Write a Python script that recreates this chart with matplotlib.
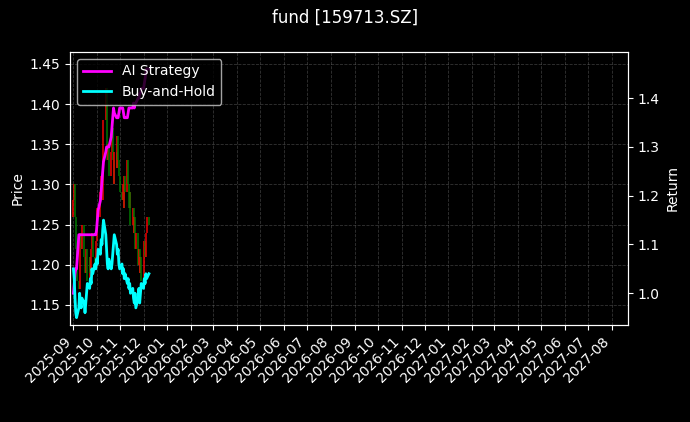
import matplotlib
matplotlib.use("Agg")
import matplotlib.pyplot as plt
import matplotlib.dates as mdates
import pandas as pd
import numpy as np

dates = pd.bdate_range("2025-09-01", "2025-12-08")
close = [1.28,1.30,1.26,1.22,1.18,1.17,1.20,1.24,1.22,1.25,1.21,1.19,1.22,1.20,1.18,1.21,1.19,1.22,1.24,1.21,1.20,1.23,
         1.25,1.27,1.26,1.29,1.31,1.28,1.33,1.38,1.42,1.36,1.33,1.35,1.31,1.34,1.37,1.33,1.30,1.34,1.32,1.36,1.33,1.31,1.29,
         1.28,1.30,1.27,1.31,1.29,1.33,1.30,1.27,1.29,1.25,1.27,1.24,1.26,1.22,1.24,1.20,1.22,1.19,1.21,1.18,
         1.20,1.23,1.21,1.24,1.26,1.25]
open_ = [1.26] + close[:-1]
buyhold = [1.05,1.03,0.99,0.96,0.95,0.97,1.00,0.98,0.97,0.99,0.98,0.96,0.98,1.00,1.02,1.01,1.03,1.02,1.05,1.04,1.06,1.05,
           1.07,1.06,1.09,1.08,1.11,1.10,1.13,1.15,1.12,1.09,1.06,1.05,1.07,1.05,1.06,1.08,1.10,1.12,1.10,1.08,1.09,1.06,1.05,
           1.06,1.04,1.05,1.03,1.04,1.02,1.03,1.01,1.02,1.00,1.01,0.99,0.98,1.00,0.97,0.99,1.01,0.98,1.00,1.02,
           1.01,1.03,1.02,1.04,1.03,1.04]
ai = [1.00,1.02,1.04,1.05,1.05] + [1.12] * 17 + \
     [1.13,1.15,1.17,1.19,1.21,1.23,1.25,1.27,1.29,1.30,1.30,1.30,1.30,1.32,1.34,1.36,1.38,1.37,1.36,1.36,1.36,1.37,1.38,
      1.38,1.38,1.37,1.36,1.36,1.36,1.37,1.38,1.38,1.38,1.38,1.39,1.38,1.39,1.39,1.40,1.40,1.41,1.41,1.42,
      1.42,1.43,1.44,1.45,1.46,1.46]

plt.style.use("dark_background")
fig, ax = plt.subplots(figsize=(6.9, 4.22), dpi=100)
fig.subplots_adjust(left=0.102, right=0.91, top=0.877, bottom=0.23)
for d, o, c in zip(dates, open_, close):
    col = "red" if c >= o else "green"
    ax.vlines(d, min(o, c), max(o, c), color=col, linewidth=1.3, alpha=0.8)
ax.set_ylim(1.125, 1.465)
ax.set_ylabel("Price")
ax.grid(True, linestyle="--", color="gray", alpha=0.4, linewidth=0.6)
ax2 = ax.twinx()
ax2.plot(dates, ai, color="magenta", linewidth=2, label="AI Strategy")
ax2.plot(dates, buyhold, color="cyan", linewidth=2, label="Buy-and-Hold")
ax2.set_ylim(0.935, 1.495)
ax2.set_ylabel("Return")
ax2.legend(loc="upper left")
ax.set_xlim(pd.Timestamp("2025-08-28"), pd.Timestamp("2027-08-22"))
ax.xaxis.set_major_locator(mdates.MonthLocator())
ax.xaxis.set_major_formatter(mdates.DateFormatter("%Y-%m"))
plt.setp(ax.get_xticklabels(), rotation=45, ha="right")
fig.suptitle("fund [159713.SZ]")
fig.savefig("out.png")
